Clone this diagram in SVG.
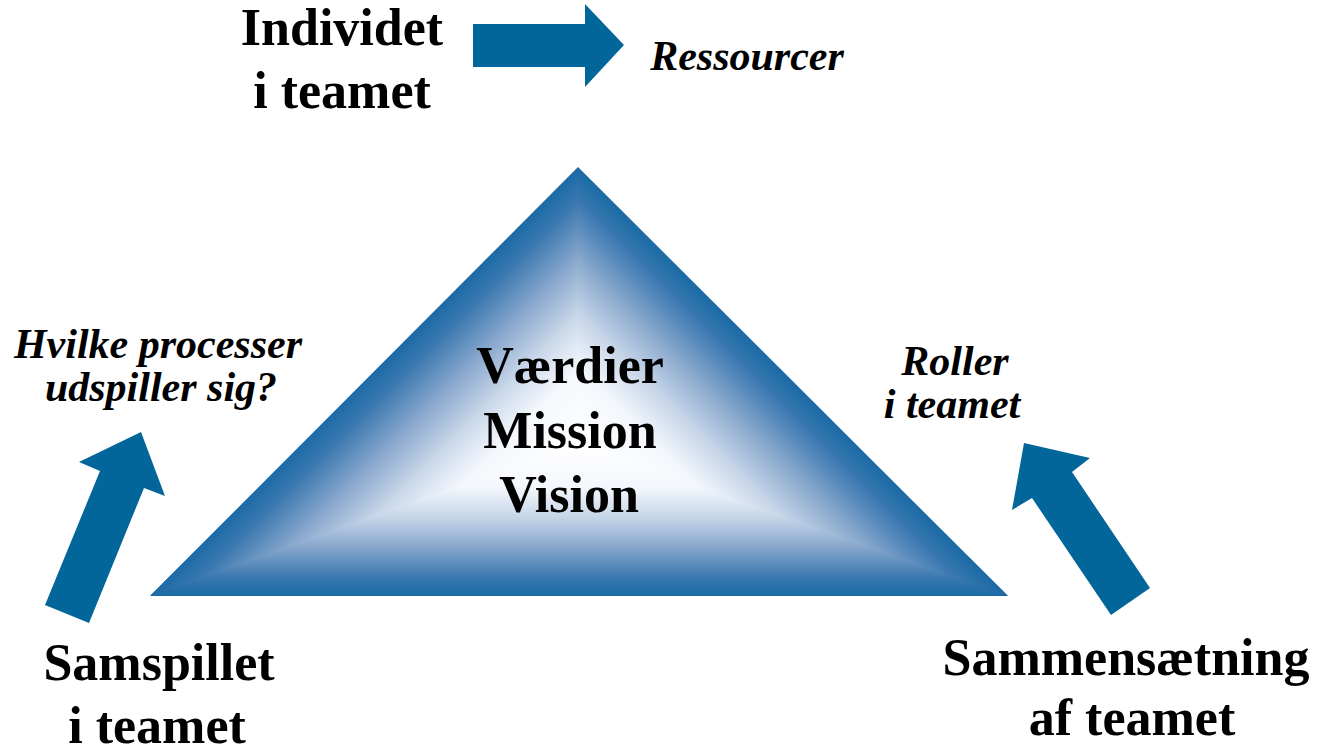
<svg xmlns="http://www.w3.org/2000/svg" width="1326" height="753" viewBox="0 0 1326 753">
  <style>
    .title { font-family: "Liberation Serif", "Times New Roman", serif; font-weight: bold; font-size: 52px; fill: #000; text-anchor: middle; }
    .note { font-family: "Liberation Serif", "Times New Roman", serif; font-weight: bold; font-style: italic; font-size: 42px; fill: #000; text-anchor: middle; }
    .arrow { fill: #03669a; }
  </style>
  <defs>
    <!-- shading from each edge toward the bright centre of the triangle -->
    <linearGradient id="shadeBottom" gradientUnits="userSpaceOnUse" x1="578" y1="596" x2="578" y2="445">
      <stop offset="0" stop-color="#1a6aa6"/>
      <stop offset="0.12" stop-color="#3a78b0"/>
      <stop offset="0.32" stop-color="#86a6cc"/>
      <stop offset="0.52" stop-color="#c6d5e8"/>
      <stop offset="0.72" stop-color="#f4f7fc"/>
      <stop offset="1" stop-color="#ffffff"/>
    </linearGradient>
    <linearGradient id="shadeLeft" href="#shadeBottom" x1="439" y1="306" x2="578" y2="445"/>
    <linearGradient id="shadeRight" href="#shadeBottom" x1="717" y1="306" x2="578" y2="445"/>
  </defs>

  <rect width="1326" height="753" fill="#ffffff"/>

  <!-- central triangle -->
  <g id="core">
    <polygon points="150,596 578,167 1008,596" fill="url(#shadeBottom)"/>
    <polygon points="150,596 578,167 578,445" fill="url(#shadeLeft)"/>
    <polygon points="578,167 1008,596 578,445" fill="url(#shadeRight)"/>
    <text class="title" x="570" y="383">Værdier</text>
    <text class="title" x="570" y="448">Mission</text>
    <text class="title" x="569" y="512">Vision</text>
  </g>

  <!-- block arrows -->
  <g id="connectors">
    <polygon class="arrow" points="473,24 585,24 585,4 624,45 585,87 585,67 473,67"/>
    <polygon class="arrow" points="141,432 165,496 144,488 89,623 45,605 100,471 79,462"/>
    <polygon class="arrow" points="1024,443 1090,458 1072,472 1150,588 1111,615 1032,498 1012,510"/>
  </g>

  <g id="individ">
    <text class="title" x="342" y="45">Individet</text>
    <text class="title" x="342" y="108">i teamet</text>
  </g>

  <g id="ressourcer">
    <text class="note" x="747" y="70">Ressourcer</text>
  </g>

  <g id="processer">
    <text class="note" x="158" y="358">Hvilke processer</text>
    <text class="note" x="161" y="401">udspiller sig?</text>
  </g>

  <g id="roller">
    <text class="note" x="955" y="375">Roller</text>
    <text class="note" x="952" y="418">i teamet</text>
  </g>

  <g id="samspil">
    <text class="title" x="159" y="680">Samspillet</text>
    <text class="title" x="157" y="743">i teamet</text>
  </g>

  <g id="sammensaetning">
    <text class="title" x="1126" y="675">Sammensætning</text>
    <text class="title" x="1132" y="735">af teamet</text>
  </g>
</svg>
